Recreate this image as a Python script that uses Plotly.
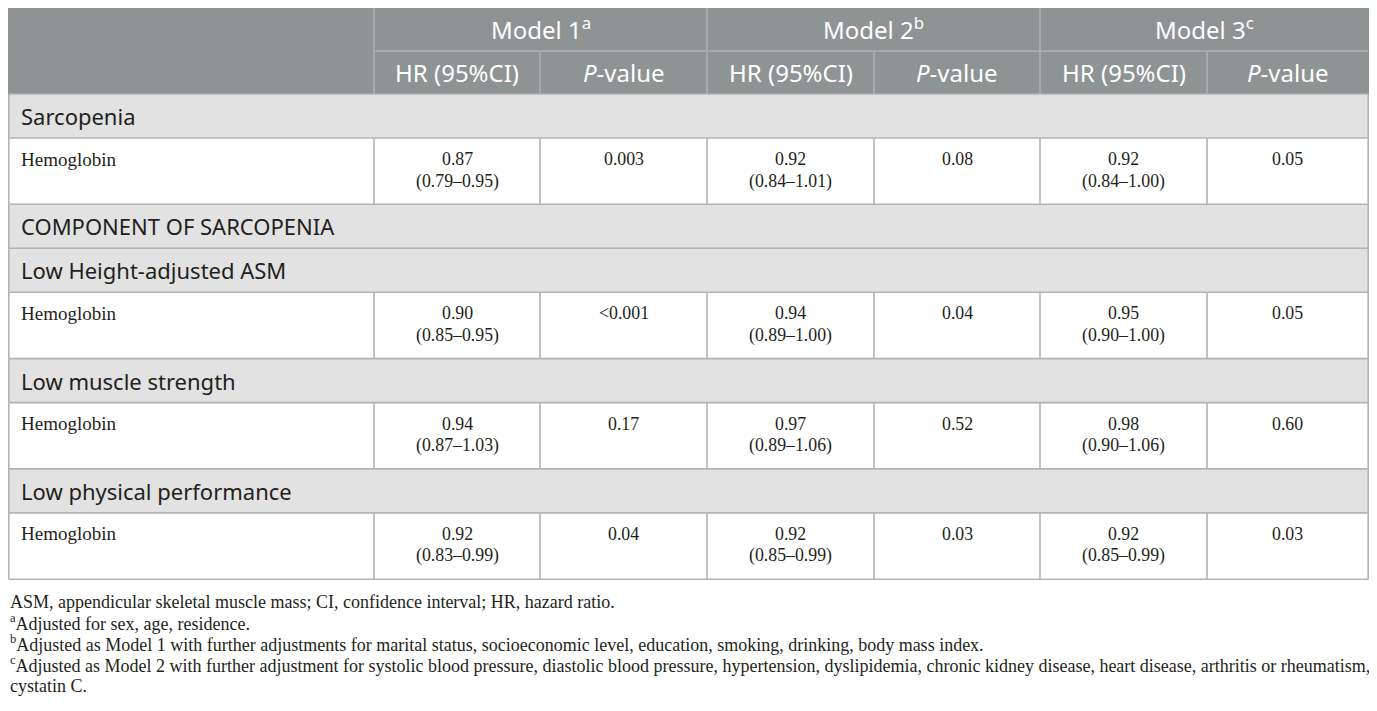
import plotly.graph_objects as go

# ---------------- data ----------------
models = ["Model 1", "Model 2", "Model 3"]
model_notes = ["a", "b", "c"]
sub_headers = ["HR (95%CI)", "<i>P</i>-value"]
section_labels = ["Sarcopenia", "COMPONENT OF SARCOPENIA", "Low Height-adjusted ASM",
                  "Low muscle strength", "Low physical performance"]
predictor = "Hemoglobin"
hr_values = [[0.87, 0.92, 0.92], [0.90, 0.94, 0.95], [0.94, 0.97, 0.98], [0.92, 0.92, 0.92]]
ci_lower = [[0.79, 0.84, 0.84], [0.85, 0.89, 0.90], [0.87, 0.89, 0.90], [0.83, 0.85, 0.85]]
ci_upper = [[0.95, 1.01, 1.00], [0.95, 1.00, 1.00], [1.03, 1.06, 1.06], [0.99, 0.99, 0.99]]
p_values = [["0.003", "0.08", "0.05"], ["<0.001", "0.04", "0.05"],
            ["0.17", "0.52", "0.60"], ["0.04", "0.03", "0.03"]]
footnotes = [
    "ASM, appendicular skeletal muscle mass; CI, confidence interval; HR, hazard ratio.",
    "<sup>a</sup>Adjusted for sex, age, residence.",
    "<sup>b</sup>Adjusted as Model 1 with further adjustments for marital status, socioeconomic level, education, smoking, drinking, body mass index.",
    "<sup>c</sup>Adjusted as Model 2 with further adjustment for systolic blood pressure, diastolic blood pressure, hypertension, dyslipidemia, chronic kidney disease, heart disease, arthritis or rheumatism,",
    "cystatin C.",
]
# order of rows: (kind, index)
row_order = [("sec", 0), ("dat", 0), ("sec", 1), ("sec", 2), ("dat", 1),
             ("sec", 3), ("dat", 2), ("sec", 4), ("dat", 3)]

# ---------------- layout constants ----------------
W, H = 1377, 711
OFF = 8                      # default page margin of the html body
FW, FH = W - 2 * OFF, H - 2 * OFF
col_edges = [8.8, 374, 540, 707, 874, 1040, 1207, 1368.2]
top = 8
sec_h, dat_h = 44, 66.3

HDR_BG = "#8e9394"
HDR_LINE = "#a5a9aa"
SEC_BG = "#e1e2e1"
GRID = "#b3b3b3"
TXT = "#231f20"
SANS = "Noto Sans"
SERIF = "Liberation Serif"

shapes, ann = [], []

def rect(x0, y0, x1, y1, color):
    shapes.append(dict(type="rect", xref="x", yref="y", x0=x0, y0=y0, x1=x1, y1=y1,
                       fillcolor=color, line=dict(width=0), layer="below"))

def line(x0, y0, x1, y1, color, w=1.6):
    shapes.append(dict(type="line", xref="x", yref="y", x0=x0, y0=y0, x1=x1, y1=y1,
                       line=dict(color=color, width=w)))

def text(x, y, s, size, font, color=TXT, xanchor="center"):
    ann.append(dict(x=x, y=y, xref="x", yref="y", text=s, showarrow=False,
                    xanchor=xanchor, yanchor="middle",
                    font=dict(family=font, size=size, color=color)))

L, R = col_edges[0], col_edges[-1]
h1 = 51
h2 = 94

# header background
rect(L - 1, top, R + 1, h2, HDR_BG)
line(col_edges[1], h1, R, h1, HDR_LINE, 2)
for i, xe in enumerate(col_edges[1:-1]):
    y0 = top if (i % 2 == 0) else h1
    line(xe, y0, xe, h2, HDR_LINE, 2)

for m, (name, note) in enumerate(zip(models, model_notes)):
    xa, xb = col_edges[1 + 2 * m], col_edges[3 + 2 * m]
    text((xa + xb) / 2, 28, f"{name}<sup>{note}</sup>", 24, SANS, "white")
    for k, sh in enumerate(sub_headers):
        ca, cb = col_edges[1 + 2 * m + k], col_edges[2 + 2 * m + k]
        text((ca + cb) / 2, 72, sh, 24, SANS, "white")

# body
y = h2
for kind, idx in row_order:
    if kind == "sec":
        rect(L, y, R, y + sec_h, SEC_BG)
        text(L + 10, y + sec_h / 2, section_labels[idx], 22, SANS, TXT, "left")
        y_next = y + sec_h
        line(L, y, L, y_next, GRID)
        line(R, y, R, y_next, GRID)
    else:
        y_next = y + dat_h
        for xe in col_edges:
            line(xe, y, xe, y_next, GRID)
        text(L + 10, y + 21, predictor, 19, SERIF, TXT, "left")
        for m in range(3):
            ca, cb, cc = col_edges[1 + 2 * m], col_edges[2 + 2 * m], col_edges[3 + 2 * m]
            text((ca + cb) / 2, y + 21, f"{hr_values[idx][m]:.2f}", 17.8, SERIF)
            text((ca + cb) / 2, y + 43,
                 f"({ci_lower[idx][m]:.2f}\u2013{ci_upper[idx][m]:.2f})", 17.8, SERIF)
            pv = p_values[idx][m].replace("<", "&lt;")
            text((cb + cc) / 2, y + 21, pv, 17.8, SERIF)
    line(L, y, R, y, GRID)
    y = y_next
line(L, y, R, y, GRID)

# footnotes
fy = y + 22.5
for fn in footnotes:
    text(OFF + 0.2, fy, fn, 18, SERIF, TXT, "left")
    fy += 21

fig = go.Figure(go.Scatter(x=[OFF], y=[OFF], mode="markers", marker=dict(opacity=0),
                           hoverinfo="skip", showlegend=False))
fig.update_layout(
    width=FW, height=FH, margin=dict(l=0, r=0, t=0, b=0),
    paper_bgcolor="white", plot_bgcolor="white",
    xaxis=dict(range=[OFF, OFF + FW], visible=False, fixedrange=True),
    yaxis=dict(range=[OFF + FH, OFF], visible=False, fixedrange=True),
    shapes=shapes, annotations=ann, showlegend=False,
)
fig.write_html("out.html")
